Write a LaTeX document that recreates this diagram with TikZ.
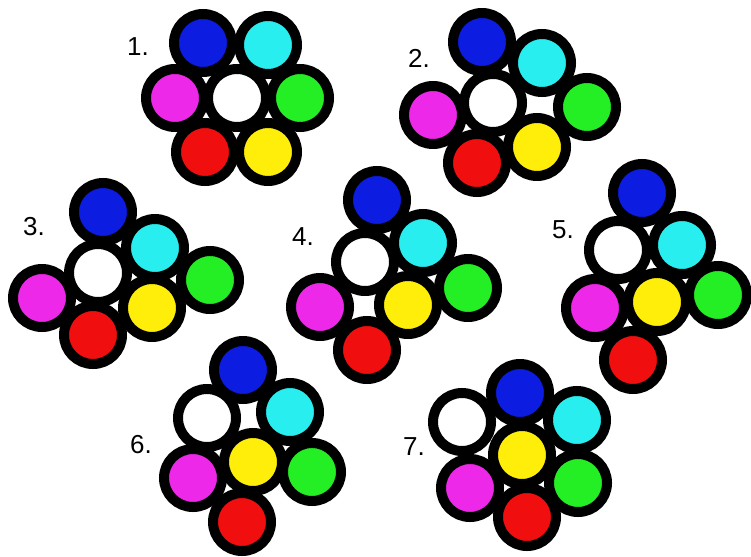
\documentclass[tikz,border=0pt]{standalone}
\usepackage{fontspec}
\setmainfont{Liberation Sans}
\definecolor{cB}{RGB}{12,28,225}
\definecolor{cC}{RGB}{40,238,240}
\definecolor{cM}{RGB}{238,40,232}
\definecolor{cG}{RGB}{36,238,36}
\definecolor{cR}{RGB}{240,14,14}
\definecolor{cY}{RGB}{255,238,10}
\definecolor{cW}{RGB}{255,255,255}
\tikzset{
  disc/.style={circle, draw=black, line width=10pt, inner sep=0pt, minimum size=58pt, fill=#1},
  lab/.style={font=\fontsize{26}{26}\selectfont, inner sep=0pt}
}
\begin{document}
\begin{tikzpicture}[x=1pt,y=-1pt]
\useasboundingbox[fill=white] (0,0) rectangle (751,556);
% group 1
\node[lab] (l1) at (138,47) {1.};
\node[disc=cB] (b1) at (203,43) {};
\node[disc=cC] (c1) at (268,45) {};
\node[disc=cM] (m1) at (175,98) {};
\node[disc=cW] (w1) at (237,98) {};
\node[disc=cG] (g1) at (300,98) {};
\node[disc=cR] (r1) at (205,152) {};
\node[disc=cY] (y1) at (268,152) {};
% group 2
\node[lab] (l2) at (419,58) {2.};
\node[disc=cB] (b2) at (482,42) {};
\node[disc=cC] (c2) at (542,63) {};
\node[disc=cW] (w2) at (493,103) {};
\node[disc=cM] (m2) at (433,115) {};
\node[disc=cG] (g2) at (587,107) {};
\node[disc=cR] (r2) at (477,163) {};
\node[disc=cY] (y2) at (537,147) {};
% group 3
\node[lab] (l3) at (34,227) {3.};
\node[disc=cB] (b3) at (103,212) {};
\node[disc=cC] (c3) at (155,248) {};
\node[disc=cW] (w3) at (98,273) {};
\node[disc=cM] (m3) at (42,298) {};
\node[disc=cG] (g3) at (210,280) {};
\node[disc=cY] (y3) at (152,308) {};
\node[disc=cR] (r3) at (93,335) {};
% group 4
\node[lab] (l4) at (303,237) {4.};
\node[disc=cB] (b4) at (377,200) {};
\node[disc=cC] (c4) at (423,243) {};
\node[disc=cW] (w4) at (365,262) {};
\node[disc=cG] (g4) at (468,288) {};
\node[disc=cY] (y4) at (408,305) {};
\node[disc=cM] (m4) at (320,307) {};
\node[disc=cR] (r4) at (367,350) {};
% group 5
\node[lab] (l5) at (563,230) {5.};
\node[disc=cB] (b5) at (642,193) {};
\node[disc=cW] (w5) at (618,250) {};
\node[disc=cC] (c5) at (682,245) {};
\node[disc=cM] (m5) at (595,308) {};
\node[disc=cY] (y5) at (657,302) {};
\node[disc=cG] (g5) at (718,295) {};
\node[disc=cR] (r5) at (633,360) {};
% group 6
\node[lab] (l6) at (141,445) {6.};
\node[disc=cB] (b6) at (243,370) {};
\node[disc=cW] (w6) at (207,418) {};
\node[disc=cC] (c6) at (290,412) {};
\node[disc=cY] (y6) at (253,462) {};
\node[disc=cM] (m6) at (193,478) {};
\node[disc=cG] (g6) at (312,472) {};
\node[disc=cR] (r6) at (242,522) {};
% group 7
\node[lab] (l7) at (414,447) {7.};
\node[disc=cB] (b7) at (520,393) {};
\node[disc=cW] (w7) at (462,422) {};
\node[disc=cC] (c7) at (577,420) {};
\node[disc=cY] (y7) at (522,455) {};
\node[disc=cM] (m7) at (470,488) {};
\node[disc=cG] (g7) at (578,483) {};
\node[disc=cR] (r7) at (527,517) {};
\end{tikzpicture}
\end{document}
